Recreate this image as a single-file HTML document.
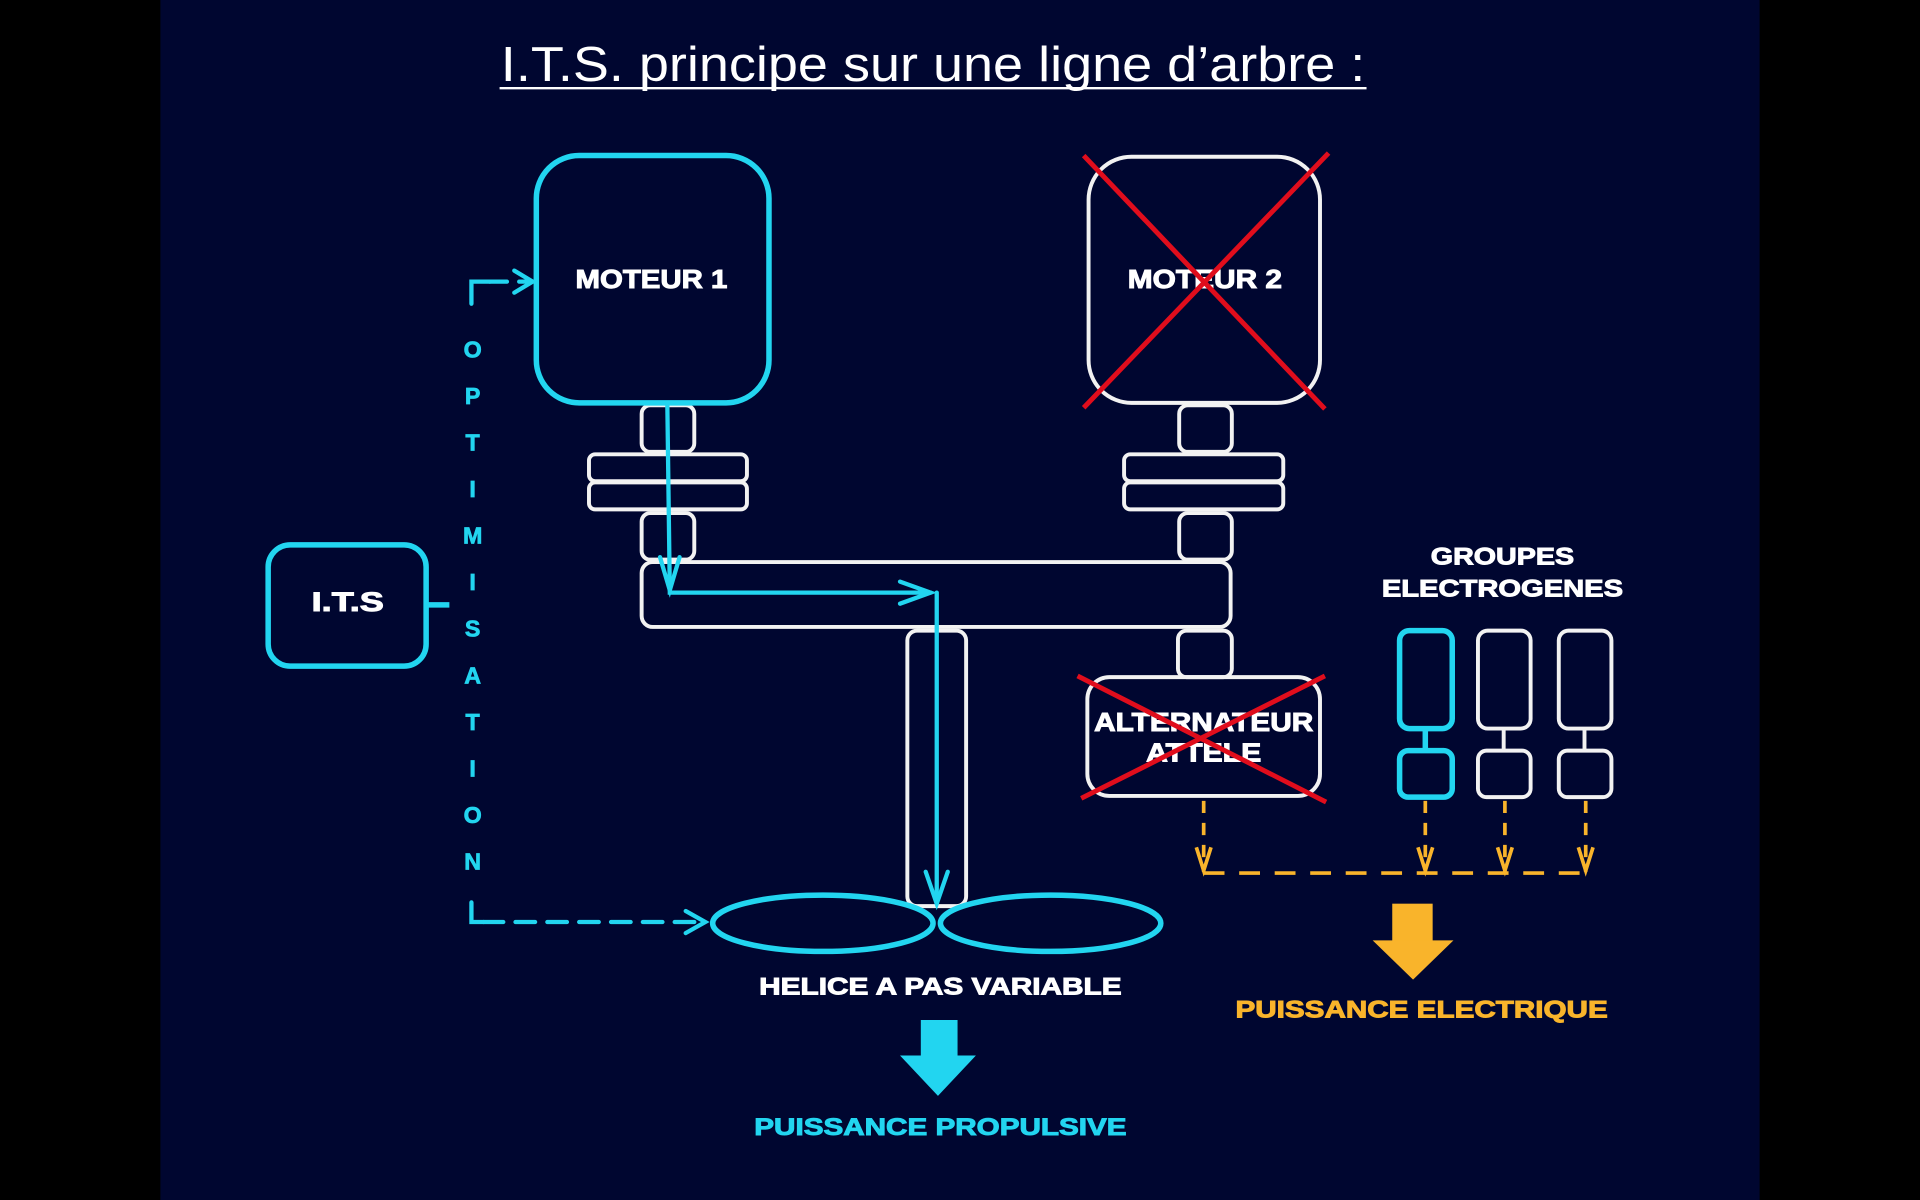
<!DOCTYPE html>
<html><head><meta charset="utf-8"><style>
html,body{margin:0;padding:0;background:#000;}
svg{display:block;}
text{font-family:"Liberation Sans",sans-serif;font-weight:bold;fill:#fff;text-anchor:middle;}
.b{stroke:#fff;stroke-width:0.8;}
</style></head><body>
<svg width="1920" height="1200" viewBox="0 0 1568 980" xmlns="http://www.w3.org/2000/svg">
<rect x="0" y="0" width="1568" height="980" fill="#000"/>
<rect x="131" y="0" width="1306" height="980" fill="#000630"/>
<text x="762" y="66" textLength="706" lengthAdjust="spacingAndGlyphs" style="font-weight:normal;font-size:40px">I.T.S. principe sur une ligne d’arbre :</text>
<line x1="408" y1="72" x2="1116" y2="72" stroke="#fff" stroke-width="2"/>
<g fill="none" stroke="#f2f2f2" stroke-width="3.2">
<rect x="889" y="128" width="189" height="201" rx="35"/>
<rect x="524" y="331" width="43" height="38" rx="7"/>
<rect x="481" y="371" width="129" height="22" rx="5"/>
<rect x="481" y="394" width="129" height="22" rx="5"/>
<rect x="524" y="419" width="43" height="38" rx="7"/>
<rect x="963" y="331" width="43" height="38" rx="7"/>
<rect x="918" y="371" width="130" height="22" rx="5"/>
<rect x="918" y="394" width="130" height="22" rx="5"/>
<rect x="963" y="419" width="43" height="38" rx="7"/>
<rect x="524" y="459" width="481" height="53" rx="9"/>
<rect x="741" y="515" width="48" height="225" rx="8"/>
<rect x="962" y="515" width="44" height="38" rx="7"/>
<rect x="888" y="553" width="190" height="97" rx="18"/>
<rect x="1207" y="515" width="43" height="80" rx="8"/>
<rect x="1207" y="613" width="43" height="38" rx="7"/>
<line x1="1228" y1="595" x2="1228" y2="613"/>
<rect x="1273" y="515" width="43" height="80" rx="8"/>
<rect x="1273" y="613" width="43" height="38" rx="7"/>
<line x1="1294" y1="595" x2="1294" y2="613"/>
</g>
<g fill="none" stroke="#22d5f0" stroke-width="4.5">
<rect x="438" y="127" width="190" height="202" rx="35"/>
<rect x="219" y="445" width="129" height="99" rx="18"/>
<rect x="1143" y="515" width="43" height="80" rx="8"/>
<rect x="1143" y="613" width="43" height="38" rx="7"/>
<line x1="1164" y1="595" x2="1164" y2="613"/>
<line x1="348" y1="494" x2="367" y2="494"/>
<ellipse cx="672" cy="754" rx="90" ry="23"/>
<ellipse cx="858" cy="754" rx="90" ry="23"/>
</g>
<g fill="none" stroke="#22d5f0" stroke-width="3.5" stroke-linecap="round">
<polyline points="545,331 547,482 547,484 760,484"/>
<polyline points="539,455 547,482 555,455"/>
<polyline points="735,475 760,484 735,493"/>
<line x1="765" y1="484" x2="765" y2="738"/>
<polyline points="756,712 765,738 774,712"/>
<polyline points="385,248 385,230 400,230"/>
<line x1="400" y1="230" x2="430" y2="230" stroke-dasharray="14 10"/>
<polyline points="420,221 435,230 420,239"/>
<polyline points="385,737 385,753 395,753"/>
<line x1="395" y1="753" x2="572" y2="753" stroke-dasharray="16 10"/>
<polyline points="560,744 576,753 560,762"/>
</g>
<rect x="752" y="833" width="30" height="30" fill="#22d5f0"/>
<polygon points="735,862 797,862 766,895" fill="#22d5f0"/>
<rect x="1137" y="738" width="33" height="31" fill="#f9b42b"/>
<polygon points="1121,768 1187,768 1154,800" fill="#f9b42b"/>
<g fill="none" stroke="#f9b42b" stroke-width="3">
<line x1="983" y1="654" x2="983" y2="712" stroke-dasharray="10 8"/>
<line x1="1164" y1="654" x2="1164" y2="712" stroke-dasharray="10 8"/>
<line x1="1229" y1="654" x2="1229" y2="712" stroke-dasharray="10 8"/>
<line x1="1295" y1="654" x2="1295" y2="712" stroke-dasharray="10 8"/>
<line x1="983" y1="713" x2="1298" y2="713" stroke-dasharray="17 12"/>
<polyline points="977,692 983,711 989,692"/>
<polyline points="1158,692 1164,711 1170,692"/>
<polyline points="1223,692 1229,711 1235,692"/>
<polyline points="1289,692 1295,711 1301,692"/>
</g>
<text class="b" x="532" y="235" textLength="124" lengthAdjust="spacingAndGlyphs" style="font-size:21px">MOTEUR 1</text>
<text class="b" x="984" y="235" textLength="126" lengthAdjust="spacingAndGlyphs" style="font-size:21px">MOTEUR 2</text>
<text class="b" x="983" y="597" textLength="179" lengthAdjust="spacingAndGlyphs" style="font-size:21px">ALTERNATEUR</text>
<text class="b" x="983" y="622" textLength="94" lengthAdjust="spacingAndGlyphs" style="font-size:21px">ATTELE</text>
<text class="b" x="284" y="499" textLength="59" lengthAdjust="spacingAndGlyphs" style="font-size:22px">I.T.S</text>
<text class="b" x="768" y="812" textLength="296" lengthAdjust="spacingAndGlyphs" style="font-size:20px">HELICE A PAS VARIABLE</text>
<text x="768" y="927" textLength="304" lengthAdjust="spacingAndGlyphs" style="font-size:20px;fill:#22d5f0;stroke:#22d5f0;stroke-width:0.8">PUISSANCE PROPULSIVE</text>
<text x="1161" y="831" textLength="304" lengthAdjust="spacingAndGlyphs" style="font-size:20px;fill:#f9b42b;stroke:#f9b42b;stroke-width:0.8">PUISSANCE ELECTRIQUE</text>
<text class="b" x="1227" y="461" textLength="117" lengthAdjust="spacingAndGlyphs" style="font-size:20px">GROUPES</text>
<text class="b" x="1227" y="487" textLength="197" lengthAdjust="spacingAndGlyphs" style="font-size:20px">ELECTROGENES</text>
<g style="font-size:19px;fill:#22d5f0;stroke:#22d5f0;stroke-width:0.6">
<text x="386" y="292" style="fill:#22d5f0">O</text>
<text x="386" y="330" style="fill:#22d5f0">P</text>
<text x="386" y="368" style="fill:#22d5f0">T</text>
<text x="386" y="406" style="fill:#22d5f0">I</text>
<text x="386" y="444" style="fill:#22d5f0">M</text>
<text x="386" y="482" style="fill:#22d5f0">I</text>
<text x="386" y="520" style="fill:#22d5f0">S</text>
<text x="386" y="558" style="fill:#22d5f0">A</text>
<text x="386" y="596" style="fill:#22d5f0">T</text>
<text x="386" y="634" style="fill:#22d5f0">I</text>
<text x="386" y="672" style="fill:#22d5f0">O</text>
<text x="386" y="710" style="fill:#22d5f0">N</text>
</g>
<g stroke="#e00d1c" stroke-width="4">
<line x1="885" y1="127" x2="1082" y2="334"/>
<line x1="1085" y1="125" x2="885" y2="333"/>
<line x1="880" y1="552" x2="1083" y2="655"/>
<line x1="1082" y1="552" x2="883" y2="652"/>
</g>
</svg>
</body></html>
